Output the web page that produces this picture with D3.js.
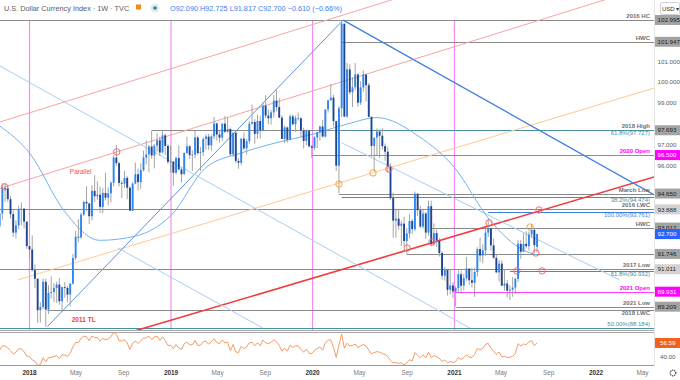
<!DOCTYPE html>
<html>
<head>
<meta charset="utf-8">
<script src="https://cdnjs.cloudflare.com/ajax/libs/d3/7.8.5/d3.min.js"></script>
<style>
body { margin: 0; background: #fff; }
svg { display: block; font-family: "Liberation Sans", Arial, sans-serif; }
</style>
</head>
<body>
<div id="chart"></div>
<script>

var width = 680,
height = 380;

var parseDate = d3.timeParse("%Y-%m-%d");

// weekly bars, first bar = week of 2017-10-16
var firstWeek = "2017-10-16";

var opens = [
93.08, 93.69, 94.92, 94.90, 94.38, 93.66, 92.77, 93.12, 93.91, 93.92, 93.30,
92.12, 91.96, 90.97, 90.55, 89.04, 89.19, 90.41, 89.07, 89.87, 89.92, 90.11, 90.27, 89.47, 90.15, 90.11, 89.79, 90.32, 91.55, 92.57, 92.54, 93.64, 94.25, 94.17, 93.56, 94.78, 94.52, 94.59, 94.01, 94.68, 94.45, 94.66, 95.17, 96.38, 96.11, 95.16, 95.13, 95.40, 94.93, 93.83, 95.13, 95.58, 95.20, 95.78, 96.38, 96.53, 96.91, 96.48, 96.95, 97.21, 96.62, 97.45, 96.94, 96.17,
96.19, 95.65, 96.36, 95.81, 95.58, 96.60, 96.92, 96.50, 96.52, 97.35, 96.60, 96.64, 97.27, 97.39, 96.97, 97.40, 98.02, 97.49, 97.34, 98.01, 97.62, 97.75, 96.54, 97.57, 96.22, 96.13, 97.29, 96.82, 97.17, 98.01, 98.09, 97.52, 98.14, 97.68, 98.88, 98.40, 98.27, 98.55, 99.12, 98.81, 98.30, 97.28, 97.83, 97.24, 98.36, 97.98, 98.27, 98.27, 97.68, 97.18, 97.68, 96.92,
96.85, 97.35, 97.60, 97.87, 97.39, 98.69, 99.13, 99.26, 98.13, 95.99, 98.75, 102.82, 98.35, 100.62, 99.52, 99.76, 100.38, 99.02, 99.75, 100.37, 99.86, 98.34, 96.94, 97.34, 97.63, 97.43, 96.93, 96.66, 95.93, 94.44, 93.35, 93.44, 93.10, 93.20, 92.37, 92.73, 93.33, 92.94, 94.64, 93.85, 93.06, 93.69, 92.77, 94.04, 92.23, 92.75, 92.39, 91.79, 90.70, 90.98, 90.02, 90.23,
89.94, 90.10, 90.77, 90.22, 90.58, 91.04, 90.48, 90.36, 90.88, 91.98, 91.67, 91.92, 92.77, 92.98, 92.16, 91.56, 90.86, 91.28, 90.22, 90.32, 89.98, 90.03, 90.13, 90.55, 92.23, 91.85, 92.23, 92.12, 92.68, 92.90, 92.09
];

var highs = [
93.93, 95.15, 95.15, 95.06, 94.54, 93.84, 93.37, 94.06, 94.22, 93.96, 93.30,
92.15, 92.64, 91.24, 90.59, 89.43, 90.56, 90.56, 90.24, 90.67, 90.34, 90.41, 90.58, 90.17, 90.40, 90.20, 90.33, 91.75, 92.86, 93.42, 93.73, 94.30, 95.00, 94.20, 95.05, 95.53, 95.24, 94.98, 94.91, 95.65, 94.95, 95.24, 96.48, 96.98, 96.18, 95.28, 95.74, 95.50, 95.00, 95.19, 96.14, 95.85, 96.10, 96.71, 97.20, 96.99, 97.69, 97.04, 97.54, 97.39, 97.71, 97.53, 97.02, 96.96,
96.20, 96.43, 96.96, 95.90, 96.63, 97.37, 96.97, 96.73, 97.71, 97.43, 96.89, 97.36, 97.50, 97.52, 97.48, 98.33, 98.06, 97.67, 98.03, 98.37, 98.32, 97.83, 97.59, 97.71, 96.35, 97.31, 97.58, 97.28, 98.14, 98.93, 98.23, 98.45, 98.39, 99.03, 99.37, 98.70, 98.67, 99.38, 99.67, 99.24, 98.42, 97.92, 97.87, 98.46, 98.45, 98.40, 98.55, 98.32, 97.81, 97.72, 97.70, 96.99,
97.40, 97.60, 97.91, 98.19, 98.71, 99.15, 99.91, 99.39, 98.15, 98.86, 102.99, 102.75, 100.93, 100.86, 100.25, 100.93, 100.42, 100.05, 100.56, 100.37, 99.97, 98.35, 97.09, 97.78, 97.74, 97.81, 97.05, 96.90, 96.10, 94.69, 93.92, 93.92, 93.33, 93.53, 92.99, 93.66, 93.43, 94.74, 94.66, 94.05, 93.91, 93.76, 94.31, 94.31, 93.21, 92.93, 92.51, 91.87, 91.12, 91.03, 91.02, 90.40,
90.19, 90.95, 90.95, 90.79, 91.60, 91.05, 91.09, 91.08, 92.07, 92.51, 92.21, 92.97, 93.44, 93.00, 92.49, 91.72, 91.45, 91.43, 91.02, 90.50, 90.23, 90.63, 90.60, 92.41, 92.41, 92.74, 92.84, 92.83, 93.19, 93.00, 92.725
];

var lows = [
92.98, 93.40, 94.26, 94.25, 93.44, 92.57, 92.49, 92.93, 93.12, 92.97, 91.99,
91.52, 90.90, 90.11, 88.44, 88.45, 89.10, 88.25, 88.86, 89.60, 89.43, 89.39, 89.30, 88.95, 89.64, 89.42, 89.23, 90.28, 91.44, 92.32, 92.47, 93.56, 93.80, 93.19, 93.36, 94.25, 94.35, 93.72, 93.70, 94.32, 94.08, 94.23, 95.00, 95.98, 94.99, 94.43, 94.91, 94.38, 93.81, 93.81, 95.09, 94.79, 94.87, 95.71, 96.05, 95.68, 96.32, 95.86, 96.67, 96.46, 96.62, 96.50, 96.06, 95.65,
95.03, 95.57, 95.77, 95.17, 95.55, 96.56, 96.31, 95.73, 96.34, 96.50, 95.74, 96.45, 96.77, 96.75, 96.70, 97.27, 97.20, 97.09, 97.17, 97.56, 97.58, 96.46, 96.42, 96.11, 95.84, 96.02, 96.74, 96.52, 97.04, 97.96, 97.04, 97.28, 97.30, 97.64, 98.28, 97.99, 97.96, 98.31, 98.60, 98.28, 97.27, 97.07, 97.10, 97.24, 97.93, 97.62, 98.16, 97.36, 96.82, 96.97, 96.86, 96.36,
96.75, 96.84, 97.19, 97.35, 97.34, 98.54, 99.12, 97.87, 95.73, 94.65, 98.32, 98.33, 98.29, 99.41, 98.81, 99.62, 98.83, 98.91, 99.55, 99.08, 98.31, 96.44, 95.71, 96.50, 96.37, 96.76, 96.23, 95.69, 94.33, 92.52, 92.52, 92.91, 92.13, 92.13, 91.75, 92.49, 92.70, 92.84, 93.56, 92.99, 92.97, 92.47, 92.62, 92.12, 92.15, 92.07, 91.62, 90.50, 90.46, 89.74, 89.80, 89.64,
89.21, 89.91, 89.84, 89.99, 90.45, 90.25, 90.13, 89.68, 90.65, 91.37, 91.30, 91.66, 92.56, 91.91, 91.52, 90.82, 90.42, 90.21, 89.98, 89.65, 89.53, 89.68, 89.81, 90.40, 91.51, 91.85, 92.01, 91.92, 92.51, 91.78, 91.817
];

var closes = [
93.69, 94.92, 94.90, 94.38, 93.66, 92.77, 93.12, 93.91, 93.92, 93.30, 92.12,
91.96, 90.97, 90.55, 89.04, 89.19, 90.41, 89.07, 89.87, 89.92, 90.11, 90.27, 89.47, 90.15, 90.11, 89.79, 90.32, 91.55, 92.57, 92.54, 93.64, 94.25, 94.17, 93.56, 94.78, 94.52, 94.59, 94.01, 94.68, 94.45, 94.66, 95.17, 96.38, 96.11, 95.16, 95.13, 95.40, 94.93, 93.83, 95.13, 95.58, 95.20, 95.78, 96.38, 96.53, 96.91, 96.48, 96.95, 97.21, 96.62, 97.45, 96.94, 96.17, 96.19,
95.65, 96.36, 95.81, 95.58, 96.60, 96.92, 96.50, 96.52, 97.35, 96.60, 96.64, 97.27, 97.39, 96.97, 97.40, 98.02, 97.49, 97.34, 98.01, 97.62, 97.75, 96.54, 97.57, 96.22, 96.13, 97.29, 96.82, 97.17, 98.01, 98.09, 97.52, 98.14, 97.68, 98.88, 98.40, 98.27, 98.55, 99.12, 98.81, 98.30, 97.28, 97.83, 97.24, 98.36, 97.98, 98.27, 98.27, 97.68, 97.18, 97.68, 96.92, 96.85,
97.35, 97.60, 97.87, 97.39, 98.69, 99.13, 99.26, 98.13, 95.99, 98.75, 102.82, 98.35, 100.62, 99.52, 99.76, 100.38, 99.02, 99.75, 100.37, 99.86, 98.34, 96.94, 97.34, 97.63, 97.43, 96.93, 96.66, 95.93, 94.44, 93.35, 93.44, 93.10, 93.20, 92.37, 92.73, 93.33, 92.94, 94.64, 93.85, 93.06, 93.69, 92.77, 94.04, 92.23, 92.75, 92.39, 91.79, 90.70, 90.98, 90.02, 90.23, 89.94,
90.10, 90.77, 90.22, 90.58, 91.04, 90.48, 90.36, 90.88, 91.98, 91.67, 91.92, 92.77, 92.98, 92.16, 91.56, 90.86, 91.28, 90.22, 90.32, 89.98, 90.03, 90.13, 90.55, 92.23, 91.85, 92.23, 92.12, 92.68, 92.90, 92.17, 92.70
];

// 52-week moving average
var maDates = ["2017-10-16", "2018-01-01", "2018-04-01", "2018-07-01", "2018-10-01", "2019-01-01", "2019-04-01", "2019-07-01", "2019-10-01", "2020-01-01", "2020-04-01", "2020-06-15", "2020-10-01", "2021-01-01", "2021-04-01", "2021-07-01", "2021-08-02"];
var maValues = [97.9, 96.6, 93.8, 92.4, 92.6, 93.6, 95.9, 96.6, 97.1, 97.5, 98.0, 98.3, 97.4, 95.9, 93.4, 91.9, 91.7];

// RSI(14) seed values for the first bar
var rsiSeedGain = 0.40,
rsiSeedLoss = 0.48;
var rsiLast = 56.59;

// horizontal levels
var levelPrices = [102.995, 101.947, 97.693, 97.727, 96.500, 94.650, 94.474, 93.888, 93.761, 93.012, 91.746, 91.011, 90.932, 89.931, 89.209, 89.04, 88.184];
var levelStarts = [null, "2020-03-16", "2018-11-13", "2020-03-16", "2020-01-01", "2020-03-09", "2020-03-16", null, "2021-03-29", "2020-11-02", "2020-08-31", null, "2021-05-24", "2021-01-01", "2021-01-06", "2018-02-16", null];
var levelKinds = ["grey", "grey", "grey", "teal", "magenta", "grey", "teal", "grey", "blue", "grey", "grey", "grey", "teal", "magenta", "grey", "grey", "teal"];
var levelLabels = ["2016 HC", "HWC", "2018 High", "61.8%(97.727)", "2020 Open", "March Low", "38.2%(94.474)", "2016 LWC", "100.00%(93.761)", "HWC", "", "2017 Low", "61.8%(90.932)", "2021 Open", "2021 Low", "2018 LWC", "50.00%(88.184)"];
var labelSide = ["above", "above", "above", "below", "above", "above", "below", "above", "below", "above", "above", "above", "below", "above", "above", "below", "above"];

// price tags on the right scale
var tagPrices = [102.995, 101.947, 97.693, 96.500, 94.650, 93.888, 93.012, 92.700, 91.746, 91.011, 89.931, 89.209];
var tagKinds = ["grey", "grey", "grey", "magenta", "grey", "light", "grey", "last", "grey", "light", "magenta", "grey"];

// trendlines: [date, price] pairs
var trendFrom = [["2017-10-29", 94.97], ["2017-10-17", 98.09], ["2017-12-02", 90.50], ["2018-10-26", 88.19], ["2020-03-20", 102.99], ["2018-02-16", 88.25], ["2017-10-17", 100.78], ["2018-08-17", 92.03], ["2020-03-15", 97.10]];
var trendTo = [["2018-08-14", 96.65], ["2018-08-14", 99.84], ["2022-06-01", 99.73], ["2022-05-31", 95.45], ["2022-06-01", 94.58], ["2020-03-20", 102.99], ["2021-02-10", 88.18], ["2019-08-26", 88.18], ["2022-03-02", 90.50]];
var trendKinds = ["pink", "pink", "orange", "red", "blue", "bluethin", "lightblue", "lightblue", "lightblue"];
var trendExtend = [true, true, false, true, false, false, false, false, false];

// marked touches
var circleDates = ["2017-10-29", "2018-08-14", "2020-03-09", "2020-06-05", "2020-07-16", "2020-09-01", "2020-11-04", "2021-03-31", "2021-08-07", "2021-07-15", "2021-07-30", "2021-06-11", "2021-08-15"];
var circlePrices = [94.97, 96.65, 95.11, 95.64, 95.83, 92.03, 92.32, 93.24, 93.86, 93.04, 91.79, 90.93, 90.93];
var circleKinds = ["red", "red", "orange", "orange", "red", "red", "red", "red", "red", "orange", "red", "red", "red"];

var yearLines = ["2018-01-01", "2019-01-01", "2020-01-01", "2021-01-01"];

var xTicks = ["2018-01-01", "2018-05-01", "2018-09-01", "2019-01-01", "2019-05-01", "2019-09-01", "2020-01-01", "2020-05-01", "2020-09-01", "2021-01-01", "2021-05-01", "2021-09-01", "2022-01-01", "2022-05-01"];
var yTicks = [89, 90, 91, 92, 93, 94, 95, 96, 97, 98, 99, 100, 101, 102];
var rsiTicks = [40, 60];

var colours = {
  grey: "#8a8a8a", teal: "#4a8d9c", magenta: "#ff3dff", blue: "#3f7fe0",
  pink: "#f7a3a3", orange: "#ffc894", red: "#f23c3c", bluethin: "#5b93dc", lightblue: "#a9cdf2"
};
var labelColours = { grey: "#6f6f6f", teal: "#4a8d9c", magenta: "#ff00ff", blue: "#3f7fe0" };
var tagFill = { grey: "#a3a3a3", light: "#d2d2d2", magenta: "#ff00ff", last: "#2962ff" };
var tagText = { grey: "#1e1e1e", light: "#2a2a2a", magenta: "#ffffff", last: "#ffffff" };

var plotRight = 654,
plotBottom = 330,
rsiTop = 333,
rsiBottom = 365;

var candles = closes.map(function(c, i) {
  return {
    date: d3.timeDay.offset(parseDate(firstWeek), i * 7),
    o: opens[i], h: highs[i], l: lows[i], c: c
  };
});

var x = d3.scaleTime()
.domain([parseDate("2018-01-01"), parseDate("2022-01-01")])
.range([29.5, 596]);

var y = d3.scaleLinear()
.domain([88.184, 102.995])
.range([328, 20]);

var yRsi = d3.scaleLinear()
.domain([40, 56.59])
.range([357, 343]);

var svg = d3.select("#chart")
.append("svg")
.attr("width", width)
.attr("height", height);

var defs = svg.append("defs");
defs.append("clipPath").attr("id", "mainClip")
.append("rect").attr("x", 0).attr("y", 0).attr("width", plotRight).attr("height", plotBottom);
defs.append("clipPath").attr("id", "rsiClip")
.append("rect").attr("x", 0).attr("y", rsiTop).attr("width", plotRight).attr("height", rsiBottom - rsiTop);

var main = svg.append("g").attr("clip-path", "url(#mainClip)");

// year separators
main.selectAll(".yearLine")
.data(yearLines)
.enter()
.append("line")
.attr("x1", function(d) { return x(parseDate(d)); })
.attr("x2", function(d) { return x(parseDate(d)); })
.attr("y1", 21)
.attr("y2", plotBottom)
.attr("stroke", "#f58cf5")
.attr("stroke-width", 1.2);

// horizontal levels
var levels = levelPrices.map(function(p, i) {
  return { price: p, start: levelStarts[i], kind: levelKinds[i], label: levelLabels[i], side: labelSide[i] };
});

main.selectAll(".level")
.data(levels)
.enter()
.append("line")
.attr("x1", function(d) { return d.start ? x(parseDate(d.start)) : 0; })
.attr("x2", plotRight)
.attr("y1", function(d) { return Math.round(y(d.price)) + 0.5; })
.attr("y2", function(d) { return Math.round(y(d.price)) + 0.5; })
.attr("stroke", function(d) { return colours[d.kind]; })
.attr("stroke-width", function(d) { return d.kind === "magenta" ? 1 : 1.1; });

// trendlines
var xStart = x.invert(0),
xEnd = x.invert(plotRight);

var trends = trendFrom.map(function(f, i) {
  var d0 = parseDate(f[0]), d1 = parseDate(trendTo[i][0]);
  var p0 = f[1], p1 = trendTo[i][1];
  if (trendExtend[i]) {
    var slope = (p1 - p0) / (d1 - d0);
    p0 = p0 + slope * (xStart - d0);
    p1 = p1 + slope * (xEnd - d1);
    d0 = xStart;
    d1 = xEnd;
  }
  return { d0: d0, p0: p0, d1: d1, p1: p1, kind: trendKinds[i] };
});

main.selectAll(".trend")
.data(trends)
.enter()
.append("line")
.attr("x1", function(d) { return x(d.d0); })
.attr("y1", function(d) { return y(d.p0); })
.attr("x2", function(d) { return x(d.d1); })
.attr("y2", function(d) { return y(d.p1); })
.attr("stroke", function(d) { return colours[d.kind]; })
.attr("stroke-width", function(d) {
  if (d.kind === "red") return 1.6;
  if (d.kind === "blue") return 1.3;
  return 1;
});

// moving average
var maLine = d3.line()
.x(function(d) { return x(d.date); })
.y(function(d) { return y(d.value); })
.curve(d3.curveMonotoneX);

main.append("path")
.datum(maDates.map(function(d, i) { return { date: parseDate(d), value: maValues[i] }; }))
.attr("d", maLine)
.attr("fill", "none")
.attr("stroke", "#6fb3f2")
.attr("stroke-width", 1);

// candles
var bodyWidth = 1.9;

main.selectAll(".wick")
.data(candles)
.enter()
.append("line")
.attr("x1", function(d) { return x(d.date); })
.attr("x2", function(d) { return x(d.date); })
.attr("y1", function(d) { return y(d.h); })
.attr("y2", function(d) { return y(d.l); })
.attr("stroke", "#9b9b9b")
.attr("stroke-width", 0.9);

main.selectAll(".body")
.data(candles)
.enter()
.append("rect")
.attr("x", function(d) { return x(d.date) - bodyWidth / 2; })
.attr("y", function(d) { return y(Math.max(d.o, d.c)); })
.attr("width", bodyWidth)
.attr("height", function(d) { return Math.max(0.8, Math.abs(y(d.o) - y(d.c))); })
.attr("fill", function(d) { return d.c >= d.o ? "#2f86f3" : "#1f478f"; });

// circles on touches
main.selectAll(".touch")
.data(circleDates)
.enter()
.append("circle")
.attr("cx", function(d) { return x(parseDate(d)); })
.attr("cy", function(d, i) { return y(circlePrices[i]); })
.attr("r", 3.2)
.attr("fill", "none")
.attr("stroke", function(d, i) { return circleKinds[i] === "orange" ? "#f5a63a" : "#f26d6d"; })
.attr("stroke-width", 1);

main.append("text")
.attr("x", x(parseDate("2018-04-15")))
.attr("y", y(95.6))
.attr("fill", "#f05050")
.style("font-size", "6.5px")
.text("Parallel");

main.append("text")
.attr("x", x(parseDate("2018-04-20")))
.attr("y", y(88.45))
.attr("fill", "#f23c3c")
.style("font-size", "6.5px")
.style("font-weight", "bold")
.text("2011 TL");

// level labels
main.selectAll(".levelLabel")
.data(levels.filter(function(d) { return d.label !== ""; }))
.enter()
.append("text")
.attr("x", 650)
.attr("y", function(d) { return Math.round(y(d.price)) + (d.side === "above" ? -2 : 4.5); })
.attr("text-anchor", "end")
.attr("fill", function(d) { return labelColours[d.kind]; })
.style("font-size", "6px")
.style("font-weight", function(d) { return (d.kind === "grey" || d.kind === "magenta") ? "bold" : "normal"; })
.text(function(d) { return d.label; });

// pane borders
svg.append("line")
.attr("x1", 0).attr("x2", plotRight).attr("y1", 330.5).attr("y2", 330.5)
.attr("stroke", "#a8a8a8").attr("stroke-width", 1);
svg.append("line")
.attr("x1", 0).attr("x2", plotRight).attr("y1", 332.5).attr("y2", 332.5)
.attr("stroke", "#a8a8a8").attr("stroke-width", 1);
svg.append("line")
.attr("x1", 0).attr("x2", plotRight).attr("y1", 365.5).attr("y2", 365.5)
.attr("stroke", "#9a9a9a").attr("stroke-width", 1);
svg.append("line")
.attr("x1", plotRight + 0.5).attr("x2", plotRight + 0.5).attr("y1", 0).attr("y2", 366)
.attr("stroke", "#e4e4e4").attr("stroke-width", 1);

// RSI
var rsi = [];
var avgGain = rsiSeedGain,
avgLoss = rsiSeedLoss;
candles.forEach(function(d, i) {
  var prev = i === 0 ? d.o : candles[i - 1].c;
  var change = d.c - prev;
  avgGain = (avgGain * 13 + Math.max(change, 0)) / 14;
  avgLoss = (avgLoss * 13 + Math.max(-change, 0)) / 14;
  rsi.push({ date: d.date, value: 100 - 100 / (1 + avgGain / avgLoss) });
});

svg.append("g").attr("clip-path", "url(#rsiClip)")
.append("path")
.datum(rsi)
.attr("d", d3.line().x(function(d) { return x(d.date); }).y(function(d) { return yRsi(d.value); }))
.attr("fill", "none")
.attr("stroke", "#f59a64")
.attr("stroke-width", 1);

// right scale, skipping ticks hidden under a price tag
var axisText = svg.append("g")
.style("font-size", "6.2px")
.attr("fill", "#5a5a5a");

axisText.selectAll(".ytick")
.data(yTicks.filter(function(t) {
  return tagPrices.every(function(p) { return Math.abs(y(p) - y(t)) > 8; });
}))
.enter()
.append("text")
.attr("x", 657.5)
.attr("y", function(d) { return y(d) + 2.2; })
.text(function(d) { return d3.format(".3f")(d); });

axisText.selectAll(".rtick")
.data(rsiTicks.filter(function(t) { return Math.abs(yRsi(t) - yRsi(rsiLast)) > 8; }))
.enter()
.append("text")
.attr("x", 660)
.attr("y", function(d) { return yRsi(d) + 2.2; })
.text(function(d) { return d3.format(".2f")(d); });

var tags = svg.append("g").selectAll(".tag")
.data(tagPrices)
.enter()
.append("g")
.attr("transform", function(d) { return "translate(655," + y(d) + ")"; });

tags.append("rect")
.attr("x", 0)
.attr("y", -5)
.attr("width", 25)
.attr("height", 10)
.attr("fill", function(d, i) { return tagFill[tagKinds[i]]; });

tags.append("text")
.attr("x", 2.5)
.attr("y", 2.2)
.attr("fill", function(d, i) { return tagText[tagKinds[i]]; })
.style("font-size", "6.2px")
.text(function(d) { return d3.format(".3f")(d); });

var rsiTag = svg.append("g")
.attr("transform", "translate(655," + yRsi(rsiLast) + ")");
rsiTag.append("rect")
.attr("x", 0).attr("y", -5).attr("width", 25).attr("height", 10)
.attr("fill", "#f2611d");
rsiTag.append("text")
.attr("x", 5).attr("y", 2.2)
.attr("fill", "#fff")
.style("font-size", "6.2px")
.text(d3.format(".2f")(rsiLast));

// currency button
svg.append("rect")
.attr("x", 660.5).attr("y", 2.5).attr("width", 19).attr("height", 12).attr("rx", 2)
.attr("fill", "#fff").attr("stroke", "#d0d0d0");
svg.append("text")
.attr("x", 662).attr("y", 11)
.attr("fill", "#333")
.style("font-size", "6px")
.text("USD ▾");

// time axis
svg.selectAll(".xtick")
.data(xTicks)
.enter()
.append("text")
.attr("x", function(d) { return x(parseDate(d)); })
.attr("y", 375)
.attr("text-anchor", "middle")
.attr("fill", function(d) { return d.slice(5) === "01-01" ? "#333" : "#7a7a7a"; })
.style("font-size", "6.4px")
.style("font-weight", function(d) { return d.slice(5) === "01-01" ? "bold" : "normal"; })
.text(function(d) {
  var dt = parseDate(d);
  return d.slice(5) === "01-01" ? d3.timeFormat("%Y")(dt) : d3.timeFormat("%b")(dt);
});

// settings gear
svg.append("circle")
.attr("cx", 673).attr("cy", 373).attr("r", 2.8)
.attr("fill", "none").attr("stroke", "#555").attr("stroke-width", 1.4)
.attr("stroke-dasharray", "1.2,0.8");

// header
var header = svg.append("g").style("font-size", "7.3px");
header.append("text")
.attr("x", 4).attr("y", 11)
.attr("fill", "#5c5c5c")
.text("U.S. Dollar Currency Index · 1W · TVC");
header.append("rect")
.attr("x", 136).attr("y", 4.5).attr("width", 5).attr("height", 5)
.attr("fill", "#f7861e");
header.append("circle")
.attr("cx", 155).attr("cy", 8).attr("r", 4.5)
.attr("fill", "#e6e9ee");
header.append("circle")
.attr("cx", 155).attr("cy", 8).attr("r", 1.8)
.attr("fill", "#1c8f86");
header.append("text")
.attr("x", 170).attr("y", 11)
.attr("fill", "#3b82f0")
.text("O92.090 H92.725 L91.817 C92.700 −0.610 (−0.66%)");

</script>
</body>
</html>
